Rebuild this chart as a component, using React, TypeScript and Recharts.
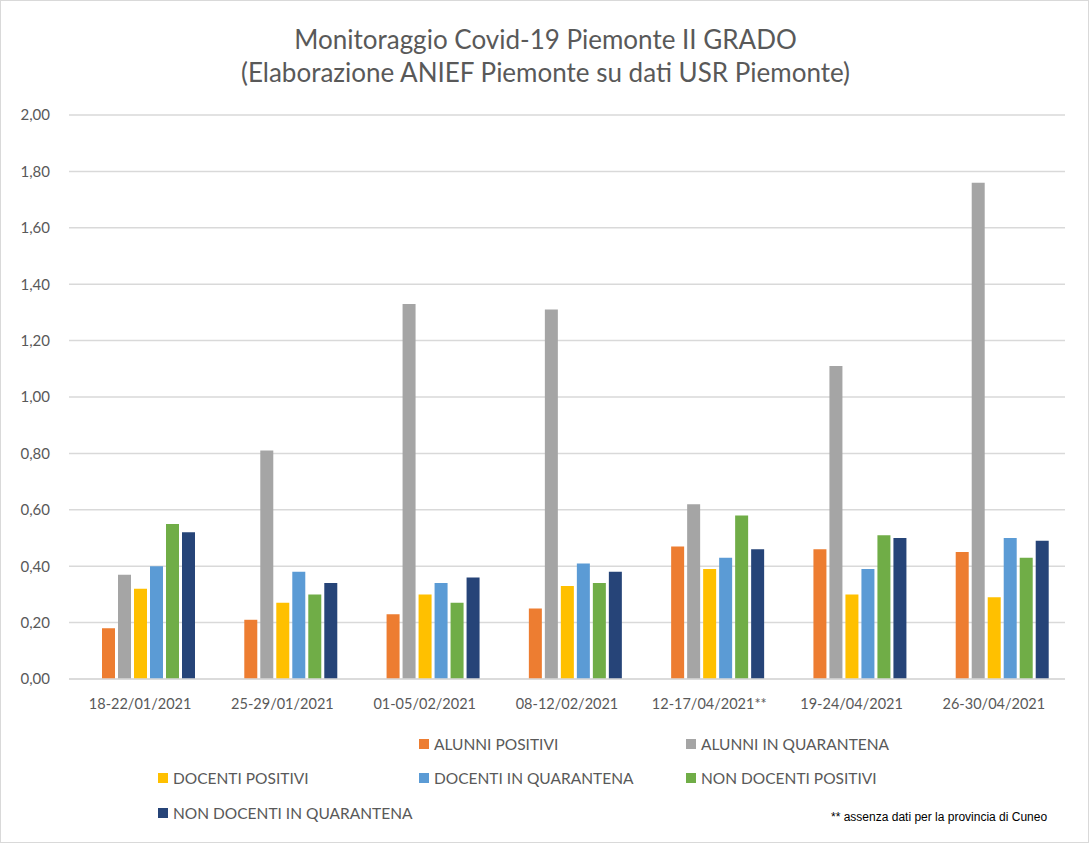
import React from 'react';
import { BarChart, Bar, XAxis, YAxis, CartesianGrid } from 'recharts';

const settimane = [
  '18-22/01/2021',
  '25-29/01/2021',
  '01-05/02/2021',
  '08-12/02/2021',
  '12-17/04/2021**',
  '19-24/04/2021',
  '26-30/04/2021',
];

const alunniPositivi = [0.18, 0.21, 0.23, 0.25, 0.47, 0.46, 0.45];
const alunniQuarantena = [0.37, 0.81, 1.33, 1.31, 0.62, 1.11, 1.76];
const docentiPositivi = [0.32, 0.27, 0.3, 0.33, 0.39, 0.3, 0.29];
const docentiQuarantena = [0.4, 0.38, 0.34, 0.41, 0.43, 0.39, 0.5];
const nonDocentiPositivi = [0.55, 0.3, 0.27, 0.34, 0.58, 0.51, 0.43];
const nonDocentiQuarantena = [0.52, 0.34, 0.36, 0.38, 0.46, 0.5, 0.49];

const yTicks = [0, 0.2, 0.4, 0.6, 0.8, 1, 1.2, 1.4, 1.6, 1.8, 2];

// the original sheet has an empty first series that still takes a slot
const series = [
  { key: 'vuoto', name: '', color: 'transparent' },
  { key: 'ap', name: 'ALUNNI POSITIVI', color: '#ED7D31' },
  { key: 'aq', name: 'ALUNNI IN QUARANTENA', color: '#A5A5A5' },
  { key: 'dp', name: 'DOCENTI POSITIVI', color: '#FFC000' },
  { key: 'dq', name: 'DOCENTI IN QUARANTENA', color: '#5B9BD5' },
  { key: 'np', name: 'NON DOCENTI POSITIVI', color: '#70AD47' },
  { key: 'nq', name: 'NON DOCENTI IN QUARANTENA', color: '#264478' },
];

const data = settimane.map((s, i) => ({
  settimana: s,
  vuoto: null,
  ap: alunniPositivi[i],
  aq: alunniQuarantena[i],
  dp: docentiPositivi[i],
  dq: docentiQuarantena[i],
  np: nonDocentiPositivi[i],
  nq: nonDocentiQuarantena[i],
}));

const FONT = 'Lato, "Open Sans", sans-serif';
const GREY_TEXT = '#595959';

const fmt = (v: number) => v.toFixed(2).replace('.', ',');

const LegendaGriglia = () => {
  const colX = [157, 418, 685];
  const rowY = [744, 778, 813];
  return (
    <>
      {series.map((s, i) => {
        if (!s.name) return null;
        const col = i % 3;
        const row = Math.floor(i / 3);
        return (
          <div
            key={s.key}
            style={{
              position: 'absolute',
              left: colX[col],
              top: rowY[row] - 10,
              display: 'flex',
              alignItems: 'center',
              fontFamily: FONT,
              fontSize: 15.5,
              color: GREY_TEXT,
              whiteSpace: 'nowrap',
            }}
          >
            <span
              style={{
                display: 'inline-block',
                width: 10,
                height: 10,
                background: s.color,
                marginRight: 5,
              }}
            />
            {s.name}
          </div>
        );
      })}
    </>
  );
};

export default function App() {
  return (
    <div
      style={{
        position: 'absolute',
        left: 0,
        top: 0,
        width: 1087,
        height: 841,
        border: '1px solid #d9d9d9',
        background: '#fff',
      }}
    >
      <div
        style={{
          position: 'absolute',
          left: 0,
          top: 22,
          width: 1089,
          textAlign: 'center',
          fontFamily: FONT,
          fontSize: 26,
          lineHeight: '33px',
          color: GREY_TEXT,
        }}
      >
        Monitoraggio Covid-19 Piemonte II GRADO
        <br />
        (Elaborazione ANIEF Piemonte su dati USR Piemonte)
      </div>
      <BarChart
        width={1089}
        height={843}
        data={data}
        margin={{ top: 115, right: 24, left: 9, bottom: 134 }}
        barSize={13}
        barGap={3}
        style={{ position: 'absolute', left: -1, top: -1 }}
      >
        <CartesianGrid vertical={false} stroke="#d9d9d9" strokeWidth={1.5} />
        <XAxis
          dataKey="settimana"
          tickLine={false}
          axisLine={{ stroke: '#d9d9d9', strokeWidth: 1.5 }}
          tick={{ fill: GREY_TEXT, fontSize: 14.5, fontFamily: FONT }}
          tickMargin={14}
          interval={0}
          height={30}
        />
        <YAxis
          width={60}
          domain={[0, 2]}
          ticks={yTicks}
          tickFormatter={fmt}
          tickLine={false}
          axisLine={false}
          tick={{ fill: GREY_TEXT, fontSize: 15, fontFamily: FONT }}
          tickMargin={13}
        />
        {series.map((s) => (
          <Bar
            key={s.key}
            dataKey={s.key}
            name={s.name}
            fill={s.color}
            isAnimationActive={false}
          />
        ))}
      </BarChart>
      <LegendaGriglia />
      <div
        style={{
          position: 'absolute',
          left: 830,
          top: 809,
          fontFamily: '"Liberation Sans", Arial, sans-serif',
          fontSize: 12,
          color: '#000',
          whiteSpace: 'nowrap',
        }}
      >
        ** assenza dati per la provincia di Cuneo
      </div>
    </div>
  );
}
